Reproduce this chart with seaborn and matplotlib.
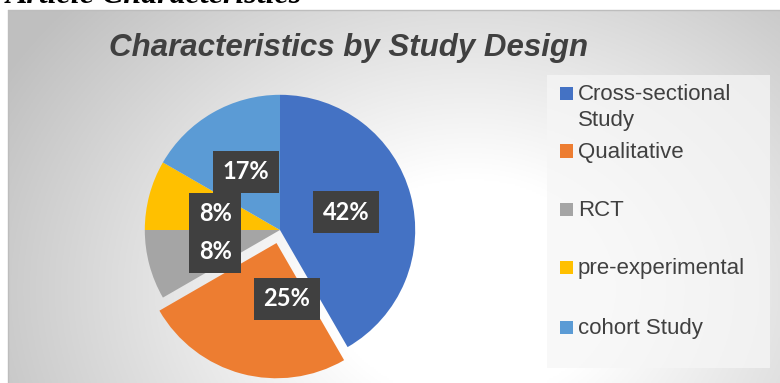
import numpy as np
import matplotlib
matplotlib.use("Agg")
import matplotlib.pyplot as plt
import seaborn as sns
from matplotlib.patches import Rectangle

sns.set_theme(style="white")

categories = ["Cross-sectional\nStudy", "Qualitative", "RCT", "pre-experimental", "cohort Study"]
counts = [5, 3, 1, 1, 2]
colors = ["#4472C4", "#ED7D31", "#A5A5A5", "#FFC000", "#5B9BD5"]
explode = [0, 0.1, 0, 0, 0]
title = "Characteristics by Study Design"
page_heading = "Article Characteristics"

W, H = 780, 383
fig = plt.figure(figsize=(W / 100, H / 100), dpi=100)
fig.patch.set_facecolor("white")

def fx(px):
    return px / W

def fy(py):
    return 1 - py / H

# chart area background with radial gradient
cx0, cy0, cx1, cy1 = 8, 10, 780, 383
bg = fig.add_axes([fx(cx0), fy(cy1), fx(cx1 - cx0), (cy1 - cy0) / H])
xs = np.linspace(cx0, cx1, 400)
ys = np.linspace(cy0, cy1, 200)
X, Y = np.meshgrid(xs, ys)
d = np.sqrt(((X - 470) / 1.0) ** 2 + ((Y - 290) * 1.25) ** 2)
t = np.clip((d - 140) / 400, 0, 1)
v = 1 - 0.25 * t ** 1.0
bg.imshow(np.dstack([v, v, v]), extent=[0, 1, 0, 1], aspect="auto", origin="upper")
bg.set_xlim(0, 1)
bg.set_ylim(0, 1)
bg.axis("off")
fig.add_artist(plt.Line2D([fx(cx0), fx(cx1)], [fy(cy0), fy(cy0)], color="#bdbdbd", lw=1))
fig.add_artist(plt.Line2D([fx(cx0), fx(cx0)], [fy(cy0), fy(cy1)], color="#bdbdbd", lw=1))

# cropped page heading
fig.text(fx(6), fy(3), page_heading, family="Liberation Serif", fontsize=23,
         fontweight="bold", fontstyle="italic", color="black", va="baseline", ha="left")

# title
fig.text(fx(349), fy(48), title, family="Liberation Sans", fontsize=22.5,
         fontweight="bold", fontstyle="italic", color="#404040", ha="center", va="center")

# pie
R = 130
pcx, pcy = 280, 230
half = R * 1.3
ax = fig.add_axes([fx(pcx - half), fy(pcy + half), 2 * half / W, 2 * half / H])
ax.set_xlim(-1.3, 1.3)
ax.set_ylim(-1.3, 1.3)
ax.axis("off")
wedges, _, autotexts = ax.pie(counts, colors=colors, explode=explode, startangle=90,
                              counterclock=False, autopct="%1.0f%%", pctdistance=0.5,
                              wedgeprops=dict(linewidth=0), radius=1.0)
for w in wedges:
    w.set_clip_on(False)
label_pos = [(0.49, 0.13), (0.05, -0.51), (-0.48, -0.16), (-0.48, 0.12), (-0.25, 0.43)]
for at, pos in zip(autotexts, label_pos):
    at.set_position(pos)
    at.set_family("Lato")
    at.set_fontweight("bold")
    at.set_fontsize(17)
    at.set_color("white")
    at.set_ha("center")
    at.set_va("center")
    at.set_bbox(dict(boxstyle="square,pad=0.4", facecolor="#404040", edgecolor="none"))

# legend
fig.add_artist(Rectangle((fx(547), fy(368)), fx(770 - 547), (368 - 75) / H,
                         transform=fig.transFigure, facecolor="#f6f6f6", edgecolor="none", alpha=0.75))
leg_y = [93, 151, 209, 267, 327]
for lab, col, yy in zip(categories, colors, leg_y):
    fig.add_artist(Rectangle((fx(560), fy(yy + 6.5)), fx(13), 13 / H,
                             transform=fig.transFigure, facecolor=col, edgecolor="none"))
    fig.text(fx(578), fy(yy - 9), lab, family="Liberation Sans", fontsize=16,
             color="#404040", ha="left", va="top", linespacing=1.3)

fig.savefig("out.png", dpi=100)
